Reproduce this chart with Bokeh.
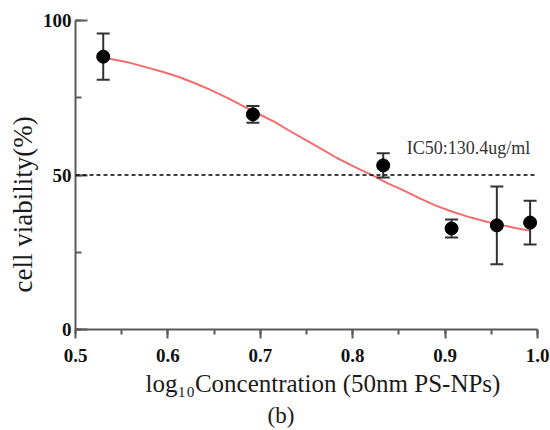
from bokeh.plotting import figure
from bokeh.models import Range1d, SingleIntervalTicker, Span, Label, PrintfTickFormatter, Title
from bokeh.embed import file_html
from bokeh.resources import INLINE

# data
conc_log = [0.530, 0.692, 0.833, 0.907, 0.956, 0.992]
viability = [88.3, 69.6, 53.1, 32.7, 33.7, 34.6]
viability_err = [7.5, 2.7, 3.9, 2.9, 12.6, 7.1]

# fitted curve
curve_x = [0.530, 0.555, 0.576, 0.594, 0.612, 0.630, 0.648, 0.666, 0.684, 0.700, 0.716,
           0.731, 0.747, 0.765, 0.783, 0.802, 0.822, 0.838, 0.855, 0.872, 0.890,
           0.908, 0.927, 0.945, 0.963, 0.977, 0.991]
curve_y = [88.0, 86.6, 84.9, 83.4, 81.7, 79.6, 77.3, 74.7, 71.9, 69.5, 67.1,
           64.4, 61.7, 58.6, 55.5, 52.6, 49.8, 47.3, 45.0, 42.5, 40.1,
           38.1, 36.3, 34.9, 33.7, 32.8, 32.0]

ic50_level = 50
ic50_text = "IC50:130.4ug/ml"
x_label = "log\u2081\u2080Concentration (50nm PS-NPs)"
y_label = "cell viability(%)"
panel_tag = "(b)"

SERIF = "Liberation Serif"

p = figure(width=550, height=430, output_backend="svg", toolbar_location=None,
           x_range=Range1d(0.5, 1.0), y_range=Range1d(0, 100),
           min_border_left=75, min_border_right=13, min_border_top=20, min_border_bottom=101)
p.outline_line_color = None
p.xgrid.grid_line_color = None
p.ygrid.grid_line_color = None
p.background_fill_color = "white"
p.border_fill_color = "white"

axis_col = "#5a5a5a"
# x axis
xa = p.xaxis[0]
xa.ticker = SingleIntervalTicker(interval=0.1, num_minor_ticks=2)
xa.formatter = PrintfTickFormatter(format="%.1f")
xa.axis_line_color = axis_col
xa.axis_line_width = 2
xa.major_tick_line_color = axis_col
xa.major_tick_line_width = 2
xa.minor_tick_line_color = axis_col
xa.minor_tick_line_width = 2
xa.major_tick_in = 0
xa.major_tick_out = 9
xa.minor_tick_in = 0
xa.minor_tick_out = 5
xa.major_label_text_font = SERIF
xa.major_label_text_font_style = "bold"
xa.major_label_text_font_size = "19px"
xa.major_label_text_color = "#111111"
xa.major_label_standoff = 10

# y axis
ya = p.yaxis[0]
ya.ticker = SingleIntervalTicker(interval=50, num_minor_ticks=2)
ya.formatter = PrintfTickFormatter(format="%d")
ya.axis_line_color = axis_col
ya.axis_line_width = 2
ya.major_tick_line_color = axis_col
ya.major_tick_line_width = 2
ya.minor_tick_line_color = axis_col
ya.minor_tick_line_width = 2
ya.major_tick_in = 12
ya.major_tick_out = 0
ya.minor_tick_in = 6
ya.minor_tick_out = 0
ya.major_label_text_font = SERIF
ya.major_label_text_font_style = "bold"
ya.major_label_text_font_size = "19px"
ya.major_label_text_color = "#111111"
ya.major_label_standoff = 4

# axis titles placed as side titles (off-centre, as in the reference)
p.add_layout(Title(text=y_label, align="left", offset=37, standoff=3,
                   text_font=SERIF, text_font_size="27px", text_font_style="normal",
                   text_color="#1a1a1a"), "left")
p.add_layout(Title(text=x_label, align="left", offset=70, standoff=7,
                   text_font=SERIF, text_font_size="25px", text_font_style="normal",
                   text_color="#1a1a1a"), "below")

# IC50 dashed line
p.add_layout(Span(location=ic50_level, dimension="width", line_color="black",
                  line_width=1.5, line_dash="4 3"))

# fitted curve
p.line(curve_x, curve_y, line_color="#f26d6d", line_width=2)

# error bars
upper = [v + e for v, e in zip(viability, viability_err)]
lower = [v - e for v, e in zip(viability, viability_err)]
p.segment(x0=conc_log, y0=lower, x1=conc_log, y1=upper, line_color="#333333", line_width=2)
p.scatter(conc_log, upper, marker="dash", size=13, line_color="#333333", line_width=2)
p.scatter(conc_log, lower, marker="dash", size=13, line_color="#333333", line_width=2)

# points
p.scatter(conc_log, viability, marker="circle", size=13, fill_color="black", line_color="black")

# IC50 annotation
p.add_layout(Label(x=0.8585, y=58.6, text=ic50_text, text_font=SERIF, text_font_size="18px",
                   text_color="#333333", text_baseline="middle", text_align="left"))

# panel tag below the axis title
p.add_layout(Title(text=panel_tag, align="left", offset=192, standoff=0,
                   text_font=SERIF, text_font_size="23px", text_font_style="normal",
                   text_color="#1a1a1a"), "below")

open("out.html", "w").write(file_html(p, INLINE))
